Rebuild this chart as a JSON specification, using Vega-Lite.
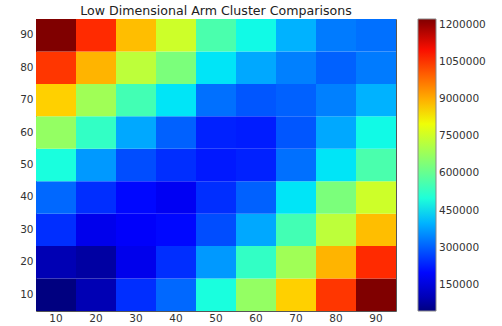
{
  "$schema": "https://vega.github.io/schema/vega-lite/v6.json",
  "autosize": {"type": "none"},
  "padding": {"left": 36, "top": 19, "right": 106, "bottom": 15},
  "width": 360,
  "height": 292,
  "background": "white",
  "title": {"text": "Low Dimensional Arm Cluster Comparisons", "fontSize": 12.6, "fontWeight": "normal", "font": "DejaVu Sans", "color": "#222", "offset": 1, "anchor": "middle"},
  "config": {
    "font": "DejaVu Sans",
    "view": {"stroke": "#555", "strokeWidth": 1},
    "axis": {"labelFontSize": 10.5, "labelColor": "#333", "labelFont": "DejaVu Sans", "ticks": false, "domain": false, "grid": false, "title": null, "labelPadding": 3},
    "axisX": {"labelPadding": 2},
    "legend": {"labelFontSize": 10.5, "labelColor": "#333", "labelFont": "DejaVu Sans"}
  },
  "data": {"values": [
    {"x": 10, "y": 10, "v": 45000}, {"x": 20, "y": 10, "v": 98000}, {"x": 30, "y": 10, "v": 245000}, {"x": 40, "y": 10, "v": 312000}, {"x": 50, "y": 10, "v": 493000}, {"x": 60, "y": 10, "v": 669000}, {"x": 70, "y": 10, "v": 858000}, {"x": 80, "y": 10, "v": 1050000}, {"x": 90, "y": 10, "v": 1223000},
    {"x": 10, "y": 20, "v": 98000}, {"x": 20, "y": 20, "v": 80000}, {"x": 30, "y": 20, "v": 155000}, {"x": 40, "y": 20, "v": 245000}, {"x": 50, "y": 20, "v": 369000}, {"x": 60, "y": 20, "v": 528000}, {"x": 70, "y": 20, "v": 687000}, {"x": 80, "y": 20, "v": 892000}, {"x": 90, "y": 20, "v": 1065000},
    {"x": 10, "y": 30, "v": 245000}, {"x": 20, "y": 30, "v": 155000}, {"x": 30, "y": 30, "v": 170000}, {"x": 40, "y": 30, "v": 200000}, {"x": 50, "y": 30, "v": 281000}, {"x": 60, "y": 30, "v": 387000}, {"x": 70, "y": 30, "v": 552000}, {"x": 80, "y": 30, "v": 728000}, {"x": 90, "y": 30, "v": 880000},
    {"x": 10, "y": 40, "v": 312000}, {"x": 20, "y": 40, "v": 245000}, {"x": 30, "y": 40, "v": 200000}, {"x": 40, "y": 40, "v": 162000}, {"x": 50, "y": 40, "v": 245000}, {"x": 60, "y": 40, "v": 304000}, {"x": 70, "y": 40, "v": 457000}, {"x": 80, "y": 40, "v": 634000}, {"x": 90, "y": 40, "v": 752000},
    {"x": 10, "y": 50, "v": 493000}, {"x": 20, "y": 50, "v": 369000}, {"x": 30, "y": 50, "v": 281000}, {"x": 40, "y": 50, "v": 245000}, {"x": 50, "y": 50, "v": 220000}, {"x": 60, "y": 50, "v": 230000}, {"x": 70, "y": 50, "v": 322000}, {"x": 80, "y": 50, "v": 457000}, {"x": 90, "y": 50, "v": 563000},
    {"x": 10, "y": 60, "v": 669000}, {"x": 20, "y": 60, "v": 528000}, {"x": 30, "y": 60, "v": 387000}, {"x": 40, "y": 60, "v": 304000}, {"x": 50, "y": 60, "v": 230000}, {"x": 60, "y": 60, "v": 225000}, {"x": 70, "y": 60, "v": 292000}, {"x": 80, "y": 60, "v": 387000}, {"x": 90, "y": 60, "v": 481000},
    {"x": 10, "y": 70, "v": 858000}, {"x": 20, "y": 70, "v": 687000}, {"x": 30, "y": 70, "v": 552000}, {"x": 40, "y": 70, "v": 457000}, {"x": 50, "y": 70, "v": 322000}, {"x": 60, "y": 70, "v": 292000}, {"x": 70, "y": 70, "v": 304000}, {"x": 80, "y": 70, "v": 340000}, {"x": 90, "y": 70, "v": 398000},
    {"x": 10, "y": 80, "v": 1050000}, {"x": 20, "y": 80, "v": 892000}, {"x": 30, "y": 80, "v": 728000}, {"x": 40, "y": 80, "v": 634000}, {"x": 50, "y": 80, "v": 457000}, {"x": 60, "y": 80, "v": 387000}, {"x": 70, "y": 80, "v": 340000}, {"x": 80, "y": 80, "v": 304000}, {"x": 90, "y": 80, "v": 334000},
    {"x": 10, "y": 90, "v": 1223000}, {"x": 20, "y": 90, "v": 1065000}, {"x": 30, "y": 90, "v": 880000}, {"x": 40, "y": 90, "v": 752000}, {"x": 50, "y": 90, "v": 563000}, {"x": 60, "y": 90, "v": 481000}, {"x": 70, "y": 90, "v": 398000}, {"x": 80, "y": 90, "v": 334000}, {"x": 90, "y": 90, "v": 322000}
  ]},
  "mark": {"type": "rect"},
  "encoding": {
    "x": {"field": "x", "type": "ordinal", "scale": {"paddingInner": 0, "paddingOuter": 0}, "axis": {"labelAngle": 0}},
    "y": {"field": "y", "type": "ordinal", "sort": "descending", "scale": {"paddingInner": 0, "paddingOuter": 0}},
    "color": {
      "field": "v", "type": "quantitative",
      "scale": {
        "domain": [45000, 174580, 192250, 445520, 457300, 486750, 798920, 810700, 822480, 1093420, 1116980, 1223000],
        "range": ["#000080", "#0000ff", "#0000ff", "#00dbff", "#00e5f7", "#15ffe2", "#eeff08", "#f7f500", "#ffec00", "#ff1300", "#e80000", "#800000"],
        "interpolate": "rgb"
      },
      "legend": {
        "title": null,
        "orient": "none",
        "legendX": 382,
        "legendY": 0,
        "direction": "vertical",
        "gradientLength": 292,
        "gradientThickness": 18,
        "gradientStrokeColor": "#888",
        "gradientStrokeWidth": 1,
        "values": [150000, 300000, 450000, 600000, 750000, 900000, 1050000, 1200000],
        "format": "d",
        "labelOffset": 3,
        "labelOverlap": false,
        "padding": 0
      }
    }
  }
}
